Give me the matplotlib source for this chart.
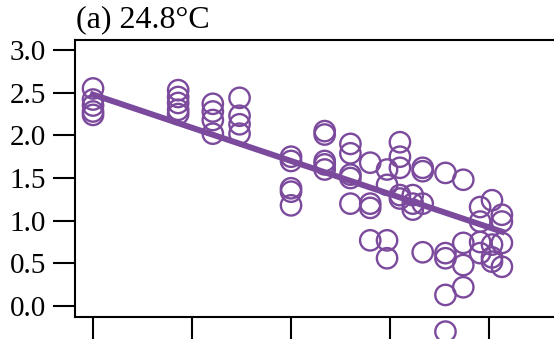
import matplotlib
matplotlib.use("Agg")
import matplotlib.pyplot as plt

# column positions (tick units) and the measured values at each
col_x = [0.0, 0.86, 1.21, 1.48, 2.0, 2.34, 2.6, 2.8, 2.97, 3.1,
         3.23, 3.33, 3.56, 3.74, 3.91, 4.03, 4.13]
col_y = [
    [2.55, 2.42, 2.35, 2.28, 2.24],
    [2.53, 2.45, 2.38, 2.30, 2.25],
    [2.37, 2.28, 2.18, 2.02],
    [2.44, 2.23, 2.13, 2.02],
    [1.75, 1.70, 1.38, 1.34, 1.18],
    [2.05, 2.01, 1.70, 1.66, 1.60],
    [1.90, 1.79, 1.54, 1.50, 1.20],
    [1.68, 1.20, 1.15, 0.77],
    [1.60, 1.42, 0.77, 0.56],
    [1.92, 1.75, 1.62, 1.30, 1.26],
    [1.30, 1.20, 1.13],
    [1.62, 1.58, 1.20, 0.63],
    [1.56, 0.62, 0.56, 0.13, -0.30],
    [1.48, 0.74, 0.48, 0.22],
    [1.16, 0.99, 0.75, 0.62],
    [1.24, 0.72, 0.57, 0.52],
    [1.07, 0.99, 0.74, 0.46],
]

# fitted trend line end points
fit_x = [-0.03, 4.16]
fit_y = [2.49, 0.86]

yticks = [0.0, 0.5, 1.0, 1.5, 2.0, 2.5, 3.0]
xticks = [0, 1, 2, 3, 4]

purple = "#7b4a9c"

plt.rcParams["font.family"] = ["Liberation Serif", "DejaVu Serif"]

fig = plt.figure(figsize=(5.54, 3.39), dpi=100)
ax = fig.add_axes([0.1354, 0.0658, 0.926, 0.816])

xs, ys = [], []
for x, vals in zip(col_x, col_y):
    for v in vals:
        xs.append(x)
        ys.append(v)

ax.scatter(xs, ys, s=215, facecolors="none", edgecolors=purple,
           linewidths=1.7, clip_on=False, zorder=3)
ax.plot(fit_x, fit_y, color=purple, lw=4.3, solid_capstyle="butt", zorder=4)

ax.set_xlim(-0.182, 5.0)
ax.set_ylim(-0.125, 3.117)
ax.set_yticks(yticks)
ax.set_yticklabels([f"{t:.1f}" for t in yticks])
ax.set_xticks(xticks)
ax.set_xticklabels([])

for sp in ax.spines.values():
    sp.set_linewidth(1.5)
ax.tick_params(axis="both", direction="out", length=16, width=1.5,
               labelsize=21, pad=5, colors="black")

ax.set_title("(a) 24.8°C", loc="left", fontsize=23, pad=9, x=0.002)

fig.savefig("out.png", dpi=100)
